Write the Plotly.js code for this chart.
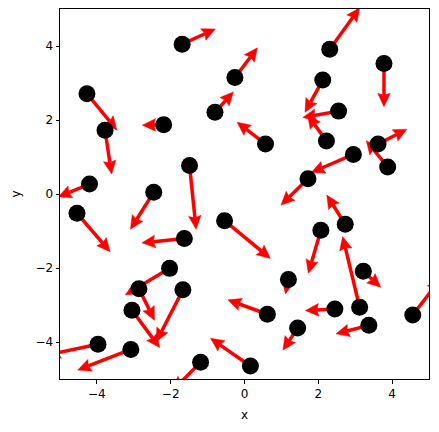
<!DOCTYPE html>
<html><head><meta charset="utf-8">
<script src="https://cdn.plot.ly/plotly-3.0.1.min.js"></script>
<style>body{margin:0;background:#fff}</style></head>
<body><div id="chart" style="width:439px;height:432px"></div>
<script>
// Dot positions
const xPos = [-1.69,-4.27,-3.78,-2.19,-0.80,-0.26,-4.20,-2.46,-1.49,0.57,
              2.31,3.78,2.12,2.55,2.22,3.62,3.88,2.95,1.72,-4.54,
              -1.63,-0.54,-2.03,-2.86,-1.67,-3.05,-3.97,-3.08,-1.19,0.16,
              0.62,2.73,2.07,3.22,1.19,3.12,2.45,3.37,1.44,4.56];
const yPos = [4.05,2.71,1.72,1.87,2.21,3.15,0.27,0.05,0.77,1.35,
              3.91,3.53,3.08,2.24,1.43,1.35,0.73,1.07,0.41,-0.52,
              -1.20,-0.72,-2.01,-2.56,-2.59,-3.14,-4.06,-4.20,-4.55,-4.65,
              -3.25,-0.82,-0.98,-2.09,-2.31,-3.06,-3.11,-3.55,-3.62,-3.27];
// Arrow vector components
const uVec = [0.90,0.81,0.18,-0.58,0.50,0.61,-0.85,-0.63,0.18,-0.77,
              0.81,0.00,-0.48,-0.97,-0.51,0.78,-0.58,-1.14,-0.73,0.90,
              -1.15,1.24,-1.20,0.42,-0.72,0.75,-1.38,-1.44,-0.75,-1.08,
              -1.07,-0.50,-0.34,0.47,-0.08,-0.46,-0.80,-0.89,-0.40,0.75];
const vVec = [0.41,-0.98,-1.18,-0.01,0.55,0.80,-0.35,-1.00,-1.72,0.59,
              1.12,-1.17,-0.87,-0.17,0.71,0.40,0.71,-0.49,-0.71,-1.04,
              -0.12,-1.02,-0.72,-0.85,-1.40,-1.01,-0.29,-0.56,-0.75,0.75,
              0.39,0.79,-1.16,-0.43,-0.39,1.91,-0.04,-0.23,-0.60,0.97];
const xTicks = [-4,-2,0,2,4];
const yTicks = [-4,-2,0,2,4];

// arrow head geometry (data units)
const HL = 0.36, HW = 0.17, HA = 0.31;
const sx = [], sy = [], hx = [], hy = [];
for (let i = 0; i < xPos.length; i++) {
  const x0 = xPos[i], y0 = yPos[i];
  const x1 = x0 + uVec[i], y1 = y0 + vVec[i];
  const len = Math.hypot(uVec[i], vVec[i]);
  const dx = uVec[i] / len, dy = vVec[i] / len;
  const nx = -dy, ny = dx;
  const bx = x1 - HA * dx, by = y1 - HA * dy;
  sx.push(x0, bx, null); sy.push(y0, by, null);
  const cx = x1 - HL * dx, cy = y1 - HL * dy;
  hx.push(x1, cx + HW * nx, bx, cx - HW * nx, x1, null);
  hy.push(y1, cy + HW * ny, by, cy - HW * ny, y1, null);
}

const traces = [
  {x: sx, y: sy, mode: 'lines', line: {color: '#ff0000', width: 3.5}, hoverinfo: 'skip', showlegend: false},
  {x: hx, y: hy, mode: 'lines', fill: 'toself', fillcolor: '#ff0000', line: {color: '#ff0000', width: 0.5}, hoverinfo: 'skip', showlegend: false},
  {x: xPos, y: yPos, mode: 'markers', marker: {color: '#000000', size: 17}, showlegend: false}
];

const axisBase = {
  range: [-5, 5], showgrid: false, zeroline: false, showline: true, mirror: true,
  linecolor: '#000', linewidth: 1, ticks: 'outside', ticklen: 3.5, tickwidth: 1, tickcolor: '#000',
  tickfont: {family: 'DejaVu Sans', size: 12, color: '#000'}
};
const layout = {
  width: 439, height: 432,
  margin: {l: 60, r: 10, t: 9, b: 53},
  paper_bgcolor: '#fff', plot_bgcolor: '#fff',
  font: {family: 'DejaVu Sans', size: 12, color: '#000'},
  xaxis: Object.assign({}, axisBase, {tickvals: xTicks, title: {text: 'x', font: {size: 12, color: '#000'}, standoff: 10}}),
  yaxis: Object.assign({}, axisBase, {tickvals: yTicks, title: {text: 'y', font: {size: 12, color: '#000'}, standoff: 12}}),
  showlegend: false
};
Plotly.newPlot('chart', traces, layout, {staticPlot: true});
</script>
</body></html>
